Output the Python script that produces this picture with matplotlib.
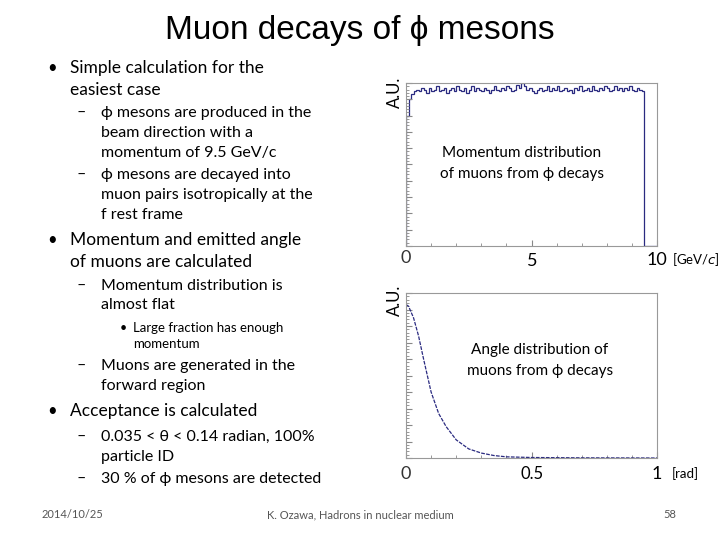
import numpy as np
import matplotlib.pyplot as plt

plt.rcParams['font.family'] = ['Lato', 'DejaVu Sans']

# momentum histogram (bin edges 0..10 GeV/c, 0.1 wide)
mom_vals = [0.80, 0.90, 0.93, 0.95, 0.96, 0.95, 0.97, 0.96, 0.94, 0.97,
            0.95, 0.96, 0.98, 0.95, 0.96, 0.97, 0.94, 0.96, 0.97, 0.95,
            0.98, 0.96, 0.95, 0.97, 0.94, 0.96, 0.98, 0.95, 0.97, 0.96,
            0.95, 0.97, 0.96, 0.94, 0.96, 0.98, 0.96, 0.95, 0.97, 0.96,
            0.98, 0.97, 0.95, 0.96, 0.99, 0.97, 1.00, 0.98, 0.96, 0.97,
            0.95, 0.94, 0.96, 0.97, 0.95, 0.96, 0.98, 0.95, 0.97, 0.96,
            0.98, 0.95, 0.96, 0.97, 0.95, 0.96, 0.94, 0.97, 0.96, 0.98,
            0.95, 0.96, 0.97, 0.95, 0.98, 0.96, 0.95, 0.97, 0.96, 0.98,
            0.97, 0.95, 0.96, 0.98, 0.96, 0.97, 0.95, 0.97, 0.96, 0.98,
            0.96, 0.95, 0.97, 0.96, 0.95, 0.0, 0.0, 0.0, 0.0, 0.0]
mom_edges = np.linspace(0, 10, 101)

# angle distribution
ang_x = [0.0, 0.01, 0.03, 0.05, 0.07, 0.10, 0.13, 0.16, 0.20, 0.25, 0.30, 0.35, 0.40, 0.50, 0.70, 1.0]
ang_y = [0.93, 0.92, 0.85, 0.74, 0.60, 0.40, 0.27, 0.19, 0.11, 0.055, 0.03, 0.015, 0.007, 0.003, 0.001, 0.0]

W, H = 720, 540
fig = plt.figure(figsize=(7.2, 5.4), dpi=100)


def txt(px, py, s, size=12.5, **kw):
    fig.text(px / W, 1 - py / H, s, fontsize=size, va='center', **kw)


def style(ax):
    for sp in ax.spines.values():
        sp.set_color('#999999')
    ax.tick_params(direction='in', length=4, color='#888888', labelbottom=False, labelleft=False,
                   which='both', top=False, right=False)
    ax.tick_params(which='minor', length=2)
    ax.set_ylim(0, 1.0)
    ax.minorticks_on()


ax1 = fig.add_axes([406 / W, 1 - 246 / H, 251 / W, 163 / H])
ax1.stairs(mom_vals, mom_edges, color='#2a2a80', lw=0.9)
ax1.set_xlim(0, 10)
style(ax1)
ax1.set_xticks([0, 5, 10])
ax1.set_yticks(np.linspace(0, 1, 11))

ax2 = fig.add_axes([406 / W, 1 - 458 / H, 251 / W, 165 / H])
ax2.plot(ang_x, ang_y, color='#2a2a80', lw=0.9, ls=(0, (3, 1)))
ax2.set_xlim(0, 1)
style(ax2)
ax2.set_xticks([0, 0.5, 1])
ax2.set_yticks(np.linspace(0, 1, 11))

# axis texts
txt(395, 92, 'A.U.', 12, rotation=90, ha='center')
txt(395, 300, 'A.U.', 12, rotation=90, ha='center')
txt(406, 258, '0', 13, ha='center', color='#333333')
txt(532, 261, '5', 13, ha='center')
txt(657, 260, '10', 13, ha='center')
txt(672, 260, '[GeV/$c$]', 9.5, ha='left')
txt(406, 474, '0', 13, ha='center', color='#333333')
txt(532, 474, '0.5', 12, ha='center')
txt(657, 474, '1', 13, ha='center')
txt(672, 474, '[rad]', 9.5, ha='left')
txt(522, 153, 'Momentum distribution', 11, ha='center')
txt(522, 174, 'of muons from ϕ decays', 11, ha='center')
txt(540, 350, 'Angle distribution of', 11, ha='center')
txt(540, 371, 'muons from ϕ decays', 11, ha='center')

# title
txt(360, 30, 'Muon decays of ϕ mesons', 24, ha='center', family=['Liberation Sans', 'DejaVu Sans'])

# body text
lines = [
    (47, 68, '•', 12), (70, 68, 'Simple calculation for the', 12.5), (70, 90, 'easiest case', 12.5),
    (76, 113, '–', 11.5), (101, 113, 'ϕ mesons are produced in the', 11.5),
    (101, 133, 'beam direction with a', 11.5), (101, 153, 'momentum of 9.5 GeV/c', 11.5),
    (76, 175, '–', 11.5), (101, 175, 'ϕ mesons are decayed into', 11.5),
    (101, 195, 'muon pairs isotropically at the', 11.5), (101, 215, 'f rest frame', 11.5),
    (47, 240, '•', 12), (70, 240, 'Momentum and emitted angle', 12.5),
    (70, 262, 'of muons are calculated', 12.5),
    (76, 286, '–', 11.5), (101, 286, 'Momentum distribution is', 11.5),
    (101, 305, 'almost flat', 11.5),
    (120, 328, '•', 9), (133, 328, 'Large fraction has enough', 9.5), (133, 344, 'momentum', 9.5),
    (76, 366, '–', 11.5), (101, 366, 'Muons are generated in the', 11.5),
    (101, 386, 'forward region', 11.5),
    (47, 411, '•', 12), (70, 411, 'Acceptance is calculated', 12.5),
    (76, 437, '–', 11.5), (101, 437, '0.035 < θ < 0.14 radian, 100%', 11.5),
    (101, 457, 'particle ID', 11.5),
    (76, 479, '–', 11.5), (101, 479, '30 % of ϕ mesons are detected', 11.5),
]
for px, py, s, sz in lines:
    txt(px, py, s, sz, ha='left')

# footer
txt(42, 515, '2014/10/25', 8, ha='left', color='#555555')
txt(360, 515, 'K. Ozawa, Hadrons in nuclear medium', 8, ha='center', color='#555555')
txt(670, 515, '58', 8, ha='center', color='#555555')

fig.savefig('out.png', dpi=100)
